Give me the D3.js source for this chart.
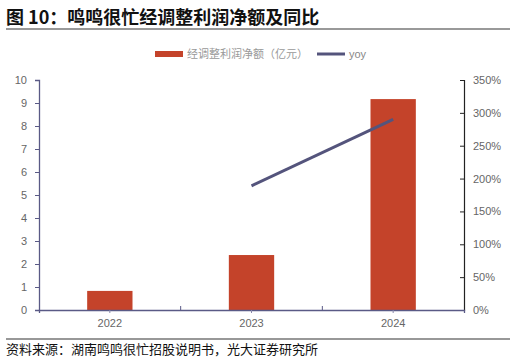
<!DOCTYPE html>
<html><head><meta charset="utf-8">
<script src="https://cdn.jsdelivr.net/npm/d3@7/dist/d3.min.js"></script>
<style>body{margin:0;background:#fff}svg{display:block}</style>
</head><body>
<script>
const categories = ["2022","2023","2024"];
const profit = [0.83, 2.39, 9.17];
const yoy = [null, 1.89, 2.90];
const leftTicks = [0,1,2,3,4,5,6,7,8,9,10];
const rightTicks = [0,0.5,1,1.5,2,2.5,3,3.5];

const W=516,H=361;
const font='"Noto Sans CJK SC","Noto Sans",sans-serif';
const numFont='"Liberation Sans",Arial,sans-serif';
const svg=d3.select("body").append("svg").attr("width",W).attr("height",H);
const m={l:39,r:464,t:80,b:310};
const x=d3.scaleBand().domain(categories).range([m.l,m.r]);
const yL=d3.scaleLinear().domain([0,10]).range([m.b,m.t]);
const yR=d3.scaleLinear().domain([0,3.5]).range([m.b,m.t]);

// title
svg.append("text").attr("x",6).attr("y",24).attr("font-family",font).attr("font-weight","bold")
 .attr("font-size",18).attr("fill","#111").text("图 10：鸣鸣很忙经调整利润净额及同比");
svg.append("line").attr("x1",6).attr("x2",510).attr("y1",29).attr("y2",29).attr("stroke","#777").attr("stroke-width",1.5);

// legend
svg.append("rect").attr("x",155).attr("y",51).attr("width",28).attr("height",6).attr("fill","#c4432a");
svg.append("text").attr("x",187).attr("y",58).attr("font-family",font).attr("font-size",11).attr("fill","#999").text("经调整利润净额（亿元）");
svg.append("line").attr("x1",317).attr("x2",345).attr("y1",54).attr("y2",54).attr("stroke","#54547c").attr("stroke-width",3);
svg.append("text").attr("x",349).attr("y",58).attr("font-family",numFont).attr("font-size",11).attr("fill","#888").text("yoy");

// bars
const bw=x.bandwidth()*0.32;
svg.selectAll("rect.bar").data(categories).join("rect").attr("class","bar")
 .attr("x",d=>x(d)+x.bandwidth()/2-bw/2).attr("width",bw)
 .attr("y",(d,i)=>yL(profit[i])).attr("height",(d,i)=>m.b-yL(profit[i])).attr("fill","#c4432a");

// left axis
const gL=svg.append("g").attr("transform",`translate(${m.l},0)`)
 .call(d3.axisLeft(yL).tickValues(leftTicks).tickSize(4).tickPadding(8));
gL.select(".domain").attr("stroke","#5a5a86").attr("stroke-width",1.3);
gL.selectAll(".tick line").attr("stroke","#5a5a86");
gL.selectAll("text").attr("font-family",numFont).attr("font-size",11).attr("fill","#666");

// right axis
const gR=svg.append("g").attr("transform",`translate(${m.r},0)`)
 .call(d3.axisLeft(yR).tickValues(rightTicks).tickSize(4).tickFormat(d=>Math.round(d*100)+"%"));
gR.select(".domain").attr("stroke","#222").attr("stroke-width",1.2);
gR.selectAll(".tick line").attr("stroke","#222");
gR.selectAll("text").attr("font-family",numFont).attr("font-size",11).attr("fill","#666")
 .attr("text-anchor","start").attr("x",9);

// bottom axis
const gB=svg.append("g").attr("transform",`translate(0,${m.b})`)
 .call(d3.axisBottom(x).tickSize(3).tickPadding(6));
gB.select(".domain").attr("stroke","#5a5a86").attr("stroke-width",1.3);
gB.selectAll(".tick line").attr("stroke","#8888aa");
gB.selectAll("text").attr("font-family",numFont).attr("font-size",11).attr("fill","#666");
// band boundary ticks
svg.selectAll("line.bt").data(categories.slice(1)).join("line").attr("class","bt")
 .attr("x1",d=>x(d)).attr("x2",d=>x(d)).attr("y1",m.b).attr("y2",m.b-4).attr("stroke","#5a5a86");

// line
const line=d3.line().defined(d=>d.v!=null).x(d=>x(d.c)+x.bandwidth()/2).y(d=>yR(d.v));
svg.append("path").datum(categories.map((c,i)=>({c,v:yoy[i]}))).attr("d",line)
 .attr("fill","none").attr("stroke","#54547c").attr("stroke-width",3);

// footer
svg.append("line").attr("x1",6).attr("x2",510).attr("y1",339).attr("y2",339).attr("stroke","#333").attr("stroke-width",1.2);
svg.append("text").attr("x",6).attr("y",354).attr("font-family",font).attr("font-size",13).attr("fill","#111")
 .text("资料来源：湖南鸣鸣很忙招股说明书，光大证券研究所");
</script>
</body></html>
